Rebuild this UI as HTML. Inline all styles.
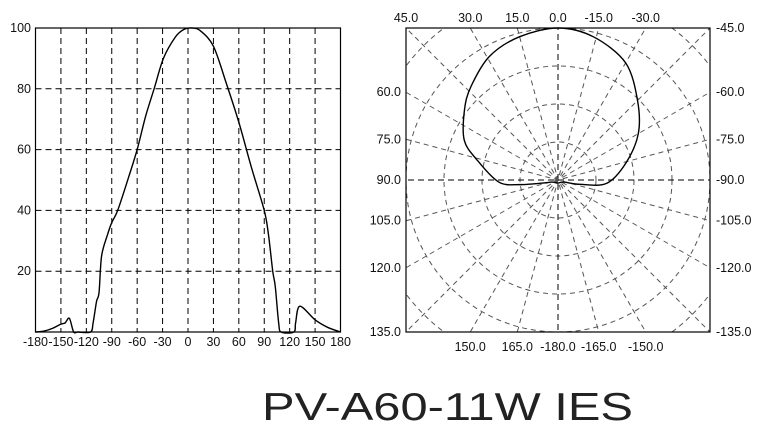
<!DOCTYPE html>
<html><head><meta charset="utf-8"><style>
html,body{margin:0;padding:0;background:#fff;width:762px;height:432px;overflow:hidden;}
svg{display:block;font-family:"Liberation Sans",Arial,sans-serif;}
</style></head><body>
<svg id="svg" width="762" height="432" viewBox="0 0 762 432" xmlns="http://www.w3.org/2000/svg">
<g id="left"></g>
<g id="right"></g>
<text x="262" y="420" font-size="39" textLength="371" lengthAdjust="spacingAndGlyphs" fill="#222">PV-A60-11W IES</text>
</svg>
<script>
// Cartesian data
const xTicks = [-180,-150,-120,-90,-60,-30,0,30,60,90,120,150,180];
const yTicks = [20,40,60,80,100];
const curveAngles = [-180,-170,-160,-150,-145,-140,-135,-130,-115,-112,-108,-105,-102,-95,-90,-83,-70,-60,-50,-40,-29,-15,-5,5,15,30,45,60,75,90,95,100,103,107,110,125,127,132,150,165,180];
const curveValues = [0,0.3,1.2,2.6,3,4.5,0,0,0,3,10,13,25,32,36,40,51,60,71,80,90,97,99.5,100,99,94,82,69,54,40,32,20,15,3,0,0,3,8.5,4,1.5,0];
// Polar data (angle from up, positive to the left; value in %)
const polarAngles = [-180,-110,-101,-94,-76,-60,-45,-30,-14,0,15,29,43,53,67,76,92,97,103,110];
const polarValues = [2,4,15,32,46,61,74,89,97,100,97.6,93,84,77,67,55,39,25,8,4];
const polarTop = ["45.0","30.0","15.0","0.0","-15.0","-30.0"];
const polarTopAng = [45,30,15,0,-15,-30];
const polarRight = ["-45.0","-60.0","-75.0","-90.0","-105.0","-120.0","-135.0"];
const polarLeft = ["","60.0","75.0","90.0","105.0","120.0","135.0"];
const polarSideAng = [45,60,75,90,105,120,135];
const polarBottom = ["150.0","165.0","-180.0","-165.0","-150.0"];
const polarBottomAng = [150,165,180,195,210];

const NS="http://www.w3.org/2000/svg";
function mk(parent,tag,attrs){const e=document.createElementNS(NS,tag);for(const k in attrs)e.setAttribute(k,attrs[k]);parent.appendChild(e);return e;}
function spline(pts,closed){
  const n=pts.length;let d='M'+pts[0][0]+','+pts[0][1];
  const get=i=>closed?pts[(i+n)%n]:pts[Math.max(0,Math.min(n-1,i))];
  const segs=closed?n:n-1;
  for(let i=0;i<segs;i++){
    const p0=get(i-1),p1=get(i),p2=get(i+1),p3=get(i+2);
    const t=0.16;
    const c1=[p1[0]+(p2[0]-p0[0])*t,p1[1]+(p2[1]-p0[1])*t];
    const c2=[p2[0]-(p3[0]-p1[0])*t,p2[1]-(p3[1]-p1[1])*t];
    d+=' C'+c1.join(',')+' '+c2.join(',')+' '+p2.join(',');
  }
  return d+(closed?'Z':'');
}

// ---- left chart
const L=document.getElementById('left');
const x0=35.5,x1=340.5,y0=28,y1=332;
const xs=a=>x0+(a+180)/360*(x1-x0);
const ys=v=>y1-v/100*(y1-y0);
xTicks.forEach(t=>{
  if(t>-180&&t<180){const l=mk(L,'line',{x1:xs(t),x2:xs(t),y1:y0,y2:y1,stroke:'#000','stroke-dasharray':'6,4','stroke-width':1});
  
  }
  const tx=mk(L,'text',{x:xs(t),y:346,'font-size':12.5,'text-anchor':'middle',fill:'#111'});
  tx.textContent=t;
  
  
});
yTicks.forEach(t=>{
  if(t<100){const l=mk(L,'line',{x1:x0,x2:x1,y1:ys(t),y2:ys(t),stroke:'#000','stroke-dasharray':'6,4','stroke-width':1});
  
  }
  const tx=mk(L,'text',{x:31,y:ys(t)+4,'font-size':12.5,'text-anchor':'end',fill:'#111'});
  tx.textContent=t;
  
  
});
const fr=mk(L,'rect',{x:x0,y:y0,width:x1-x0,height:y1-y0,fill:'none',stroke:'#000','stroke-width':1.2});


const cp=mk(L,'path',{d:spline(curveAngles.map((a,i)=>[xs(a),ys(curveValues[i])]),false),fill:'none',stroke:'#000','stroke-width':1.4});



// ---- polar chart
const R=document.getElementById('right');
const px0=406,px1=710,py0=28,py1=332,cx=558,cy=180,rad=152;
const cpth=mk(R,'clipPath',{id:'pc'});
mk(cpth,'rect',{x:px0,y:py0,width:px1-px0,height:py1-py0});
const G=mk(R,'g',{'clip-path':'url(#pc)'});
[0.25,0.5,0.75,1,1.25].forEach(f=>{
  const c=mk(G,'circle',{cx:cx,cy:cy,r:rad*f,fill:'none',stroke:'#555','stroke-dasharray':'5,4','stroke-width':1});
  
  
});
for(let a=0;a<180;a+=15){
  const t=a*Math.PI/180,dx=Math.sin(t)*400,dy=-Math.cos(t)*400;
  const main=(a===0||a===90);
  const l=mk(G,'line',{x1:cx-dx,y1:cy-dy,x2:cx+dx,y2:cy+dy,stroke:main?'#000':'#555','stroke-dasharray':main?'6,4':'5,4','stroke-width':1});
  
  
}
const pf=mk(R,'rect',{x:px0,y:py0,width:px1-px0,height:py1-py0,fill:'none',stroke:'#000','stroke-width':1.2});


const pp=mk(R,'path',{d:spline(polarAngles.map((a,i)=>{const t=a*Math.PI/180,r=polarValues[i]/100*rad;return [cx-Math.sin(t)*r,cy-Math.cos(t)*r];}),true),fill:'none',stroke:'#000','stroke-width':1.4});


polarTop.forEach((s,i)=>{
  const tx=mk(R,'text',{x:cx-Math.tan(polarTopAng[i]*Math.PI/180)*rad,y:22,'font-size':12.5,'text-anchor':'middle',fill:'#111'});
  tx.textContent=s;
  
  
});
polarSideAng.forEach((a,i)=>{
  const y=cy-rad/Math.tan(a*Math.PI/180);
  const tr=mk(R,'text',{x:716,y:y+4,'font-size':12.5,fill:'#111'});
  tr.textContent=polarRight[i];
  
  
  const tl=mk(R,'text',{x:401,y:y+4,'font-size':12.5,'text-anchor':'end',fill:'#111'});
  tl.textContent=polarLeft[i];
  
  
});
polarBottom.forEach((s,i)=>{
  const tx=mk(R,'text',{x:cx+Math.tan((polarBottomAng[i]-180)*Math.PI/180)*rad,y:351,'font-size':12.5,'text-anchor':'middle',fill:'#111'});
  tx.textContent=s;
  
  
});
</script>
</body></html>
